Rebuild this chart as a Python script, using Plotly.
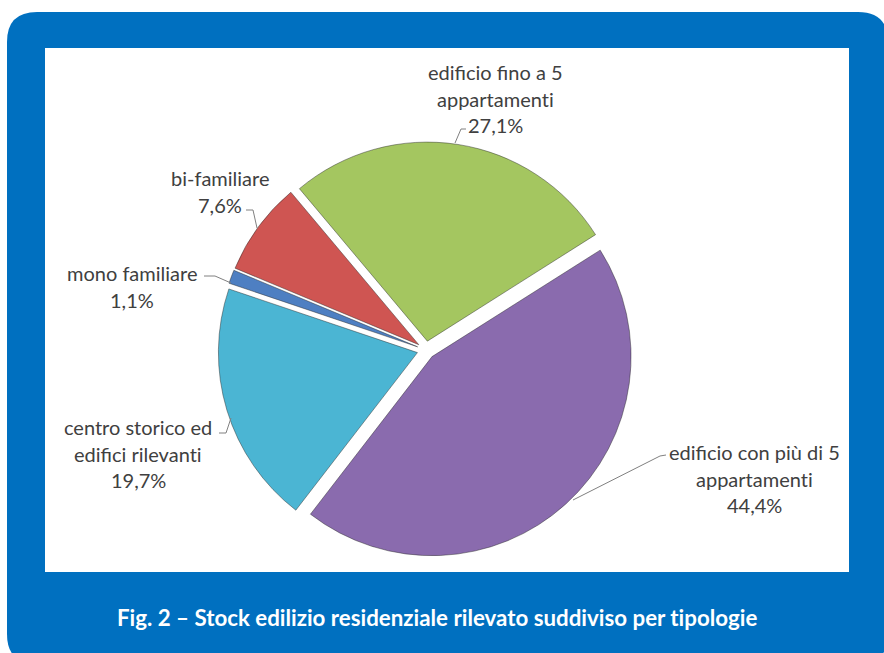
import plotly.graph_objects as go

# Residential building stock by type (share of surveyed units, %)
categories = [
    "edificio fino a 5<br>appartamenti",
    "edificio con più di 5<br>appartamenti",
    "centro storico ed<br>edifici rilevanti",
    "mono familiare",
    "bi-familiare",
]
shares = [27.1, 44.4, 19.7, 1.1, 7.6]
slice_colors = ["#A4C660", "#8A6BAE", "#4BB5D3", "#4E7FC2", "#CF5552"]
caption = "Fig. 2 – Stock edilizio residenziale rilevato suddiviso per tipologie"

W, H = 884, 653

fig = go.Figure()

fig.add_trace(go.Pie(
    labels=[c.replace("<br>", " ") for c in categories],
    values=shares,
    sort=False,
    direction="clockwise",
    rotation=-40,
    pull=[0.045] * len(shares),
    marker=dict(colors=slice_colors, line=dict(color="rgba(40,40,40,0.45)", width=1)),
    textinfo="none",
    hoverinfo="skip",
    showlegend=False,
    domain=dict(x=[218 / W, 634 / W], y=[1 - 558 / H, 1 - 142 / H]),
))


def fmt_pct(v):
    return f"{v:.1f}".replace(".", ",") + "%"


def no_lig(s):
    # keep the "ti" pair as separate glyphs
    return s.replace("ti", "t\u200ci")


# label anchor (centre x, first line y) and leader path, in pixel units
label_layout = [
    (495, 72, [(466, 129), (461, 129), (455, 143)]),
    (754, 452, [(666, 455), (660, 456), (573, 500)]),
    (138, 427, [(219, 433), (226, 433), (231, 418)]),
    (132, 273, [(204, 276), (215, 276), (231, 283)]),
    (220, 178, [(246, 210), (253, 210), (257, 228)]),
]
line_gap = 26.5

annotations = []
shapes = []

# blue rounded frame and white chart panel
x0, y0, x1, y1, r = 7, 12, 888, 664, 30
frame = (f"M {x0 + r},{y0} L {x1 - r},{y0} Q {x1},{y0} {x1},{y0 + r} "
         f"L {x1},{y1 - r} Q {x1},{y1} {x1 - r},{y1} L {x0 + r},{y1} "
         f"Q {x0},{y1} {x0},{y1 - r} L {x0},{y0 + r} Q {x0},{y0} {x0 + r},{y0} Z")
shapes.append(dict(type="path", path=frame, xref="x", yref="y",
                   fillcolor="#0070C0", line=dict(width=0), layer="below"))
shapes.append(dict(type="rect", x0=45, y0=48, x1=849, y1=572, xref="x", yref="y",
                   fillcolor="white", line=dict(width=0), layer="below"))

for cat, val, (cx, ty, path) in zip(categories, shares, label_layout):
    lines = cat.split("<br>") + [fmt_pct(val)]
    for i, txt in enumerate(lines):
        annotations.append(dict(
            x=cx, y=ty + i * line_gap, xref="x", yref="y", text=no_lig(txt),
            showarrow=False, xanchor="center", yanchor="middle",
            font=dict(family="Lato", size=20, color="#404040"),
        ))
    d = "M " + " L ".join(f"{px},{py}" for px, py in path)
    shapes.append(dict(type="path", path=d, xref="x", yref="y",
                       line=dict(color="#808080", width=1), layer="above"))

annotations.append(dict(
    x=437, y=617, xref="x", yref="y", text=f"<b>{no_lig(caption)}</b>",
    showarrow=False, xanchor="center", yanchor="middle",
    font=dict(family="Lato", size=22.3, color="white"),
))

fig.update_layout(
    width=W, height=H,
    margin=dict(l=0, r=0, t=0, b=0),
    paper_bgcolor="white", plot_bgcolor="rgba(0,0,0,0)",
    xaxis=dict(range=[0, W], visible=False, fixedrange=True),
    yaxis=dict(range=[H, 0], visible=False, fixedrange=True),
    shapes=shapes, annotations=annotations,
)

fig.write_html("out.html")
